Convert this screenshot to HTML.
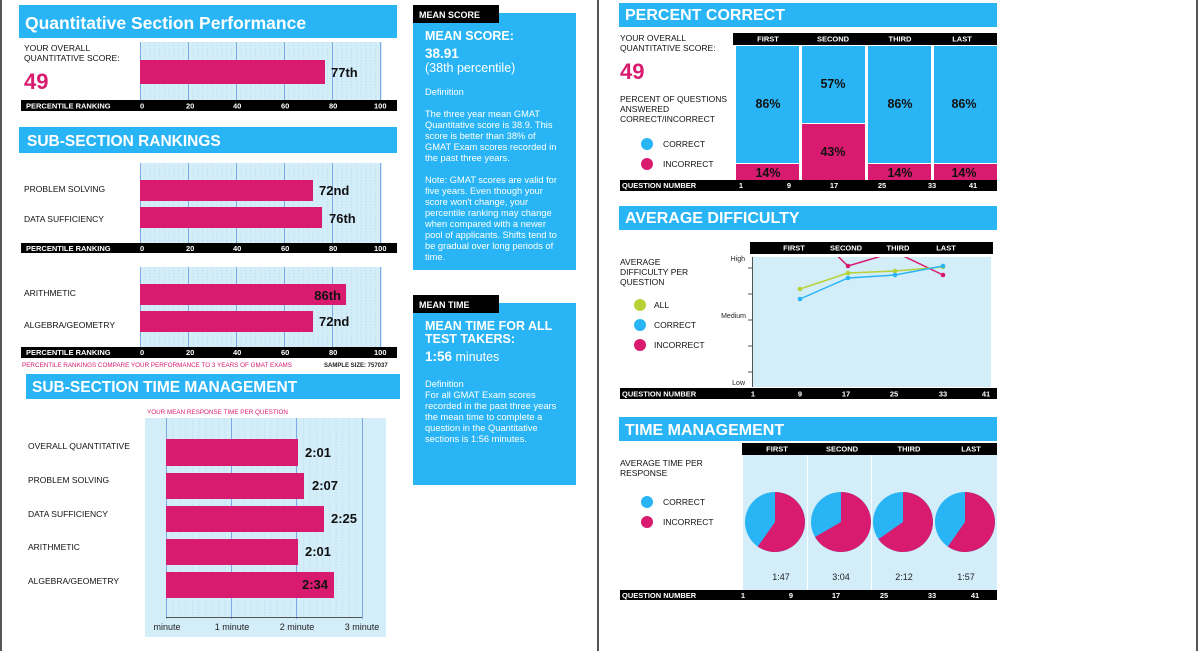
<!DOCTYPE html>
<html><head><meta charset="utf-8"><style>
html,body{margin:0;padding:0;background:#fff;}
svg{display:block;font-family:"Liberation Sans",Arial,sans-serif;}
.w{fill:#fff;font-weight:bold;}
.ax{fill:#fff;font-weight:bold;font-size:7.5px;}
.lb{fill:#111;font-size:8.5px;}
.bv{fill:#111;font-weight:bold;font-size:13px;}
.pc{fill:#111;font-weight:bold;font-size:12.5px;text-anchor:middle;}
.mt{fill:#fff;font-size:9.3px;}
</style></head><body>
<svg width="1198" height="651" viewBox="0 0 1198 651" xmlns="http://www.w3.org/2000/svg">
<defs>
<pattern id="dots" x="140" y="0" width="4.8" height="3" patternUnits="userSpaceOnUse">
<rect width="4.8" height="3" fill="#d3edf9"/><rect x="0" y="0" width="0.6" height="1.5" fill="#b6d7ee"/>
</pattern>
<pattern id="dots2" x="166" y="0" width="6.53" height="3" patternUnits="userSpaceOnUse">
<rect width="6.53" height="3" fill="#d3edf9"/><rect x="0" y="0" width="0.6" height="1.5" fill="#b6d7ee"/>
</pattern>
<clipPath id="plot"><rect x="752" y="257" width="239" height="130"/></clipPath>
</defs>
<rect width="1198" height="651" fill="#fff"/>
<rect x="0" y="0" width="2" height="651" fill="#555"/>
<rect x="597" y="0" width="2" height="651" fill="#555"/>
<rect x="1196" y="0" width="2" height="651" fill="#555"/>

<!-- LEFT: Quantitative -->
<rect x="19" y="5" width="378" height="33" fill="#29b5f5"/>
<text x="25" y="29" class="w" font-size="17.5">Quantitative Section Performance</text>
<text x="24" y="51" class="lb">YOUR OVERALL</text>
<text x="24" y="61" class="lb">QUANTITATIVE SCORE:</text>
<text x="24" y="89" fill="#d81b6f" font-weight="bold" font-size="22">49</text>
<rect x="140" y="42" width="242" height="58" fill="url(#dots)"/>
<g stroke="#7fa8e8" stroke-width="1"><line x1="140.5" y1="42" x2="140.5" y2="100"/><line x1="188.5" y1="42" x2="188.5" y2="100"/><line x1="236.5" y1="42" x2="236.5" y2="100"/><line x1="284.5" y1="42" x2="284.5" y2="100"/><line x1="332.5" y1="42" x2="332.5" y2="100"/><line x1="380.5" y1="42" x2="380.5" y2="100"/></g>
<rect x="140" y="60" width="185" height="24" fill="#d81b6f"/>
<text x="331" y="77" class="bv">77th</text>
<rect x="21" y="100" width="376" height="11" fill="#000"/>
<text x="26" y="108.5" class="ax">PERCENTILE RANKING</text>
<g class="ax"><text x="140" y="108.5">0</text><text x="186" y="108.5">20</text><text x="233" y="108.5">40</text><text x="281" y="108.5">60</text><text x="329" y="108.5">80</text><text x="374" y="108.5">100</text></g>

<rect x="19" y="127" width="378" height="26" fill="#29b5f5"/>
<text x="27" y="146" class="w" font-size="15.5">SUB-SECTION RANKINGS</text>
<rect x="140" y="163" width="242" height="80" fill="url(#dots)"/>
<g stroke="#7fa8e8"><line x1="140.5" y1="163" x2="140.5" y2="243"/><line x1="188.5" y1="163" x2="188.5" y2="243"/><line x1="236.5" y1="163" x2="236.5" y2="243"/><line x1="284.5" y1="163" x2="284.5" y2="243"/><line x1="332.5" y1="163" x2="332.5" y2="243"/><line x1="380.5" y1="163" x2="380.5" y2="243"/></g>
<rect x="140" y="180" width="173" height="21" fill="#d81b6f"/>
<rect x="140" y="207" width="182" height="21" fill="#d81b6f"/>
<text x="24" y="192" class="lb">PROBLEM SOLVING</text>
<text x="24" y="222" class="lb">DATA SUFFICIENCY</text>
<text x="319" y="195" class="bv">72nd</text>
<text x="329" y="223" class="bv">76th</text>
<rect x="21" y="243" width="376" height="10" fill="#000"/>
<text x="26" y="251" class="ax">PERCENTILE RANKING</text>
<g class="ax"><text x="140" y="251">0</text><text x="186" y="251">20</text><text x="233" y="251">40</text><text x="281" y="251">60</text><text x="329" y="251">80</text><text x="374" y="251">100</text></g>

<rect x="140" y="267" width="242" height="80" fill="url(#dots)"/>
<g stroke="#7fa8e8"><line x1="140.5" y1="267" x2="140.5" y2="347"/><line x1="188.5" y1="267" x2="188.5" y2="347"/><line x1="236.5" y1="267" x2="236.5" y2="347"/><line x1="284.5" y1="267" x2="284.5" y2="347"/><line x1="332.5" y1="267" x2="332.5" y2="347"/><line x1="380.5" y1="267" x2="380.5" y2="347"/></g>
<rect x="140" y="284" width="206" height="21" fill="#d81b6f"/>
<rect x="140" y="311" width="173" height="21" fill="#d81b6f"/>
<text x="24" y="296" class="lb">ARITHMETIC</text>
<text x="24" y="328" class="lb">ALGEBRA/GEOMETRY</text>
<text x="341" y="300" class="bv" text-anchor="end">86th</text>
<text x="319" y="326" class="bv">72nd</text>
<rect x="21" y="347" width="376" height="11" fill="#000"/>
<text x="26" y="355" class="ax">PERCENTILE RANKING</text>
<g class="ax"><text x="140" y="355">0</text><text x="186" y="355">20</text><text x="233" y="355">40</text><text x="281" y="355">60</text><text x="329" y="355">80</text><text x="374" y="355">100</text></g>
<text x="22" y="367" fill="#d81b6f" font-size="6.3">PERCENTILE RANKINGS COMPARE YOUR PERFORMANCE TO 3 YEARS OF GMAT EXAMS</text>
<text x="324" y="367" fill="#222" font-size="6" font-weight="bold">SAMPLE SIZE: 757037</text>

<rect x="26" y="374" width="374" height="25" fill="#29b5f5"/>
<text x="32" y="392" class="w" font-size="15.5">SUB-SECTION TIME MANAGEMENT</text>
<text x="147" y="414" fill="#d81b6f" font-size="6.3">YOUR MEAN RESPONSE TIME PER QUESTION</text>
<rect x="145" y="418" width="241" height="219" fill="#d3edf9"/>
<rect x="166" y="418" width="196" height="199" fill="url(#dots2)"/>
<g stroke="#7fa8e8"><line x1="166.5" y1="418" x2="166.5" y2="619"/><line x1="231.5" y1="418" x2="231.5" y2="619"/><line x1="296.5" y1="418" x2="296.5" y2="619"/><line x1="362.5" y1="418" x2="362.5" y2="619"/></g>
<line x1="166" y1="617.5" x2="362" y2="617.5" stroke="#555"/>
<rect x="166" y="439" width="132" height="27" fill="#d81b6f"/>
<rect x="166" y="473" width="138" height="26" fill="#d81b6f"/>
<rect x="166" y="506" width="158" height="26" fill="#d81b6f"/>
<rect x="166" y="539" width="132" height="26" fill="#d81b6f"/>
<rect x="166" y="572" width="168" height="26" fill="#d81b6f"/>
<text x="305" y="457" class="bv">2:01</text>
<text x="312" y="490" class="bv">2:07</text>
<text x="331" y="523" class="bv">2:25</text>
<text x="305" y="556" class="bv">2:01</text>
<text x="328" y="589" class="bv" text-anchor="end">2:34</text>
<g class="lb"><text x="28" y="449">OVERALL QUANTITATIVE</text><text x="28" y="483">PROBLEM SOLVING</text><text x="28" y="517">DATA SUFFICIENCY</text><text x="28" y="550">ARITHMETIC</text><text x="28" y="584">ALGEBRA/GEOMETRY</text></g>
<g fill="#222" font-size="9" text-anchor="middle"><text x="167" y="630">minute</text><text x="232" y="630">1 minute</text><text x="297" y="630">2 minute</text><text x="362" y="630">3 minute</text></g>

<!-- MIDDLE -->
<rect x="413" y="13" width="163" height="257" fill="#29b5f5"/>
<rect x="413" y="5" width="86" height="18" fill="#000"/>
<text x="419" y="18" class="w" font-size="9">MEAN SCORE</text>
<text x="425" y="40" class="w" font-size="12.5">MEAN SCORE:</text>
<text x="425" y="58" class="w" font-size="13.5">38.91</text>
<text x="425" y="72" fill="#fff" font-size="12.5">(38th percentile)</text>
<text x="425" y="95" class="mt">Definition</text>
<g class="mt"><text x="425" y="117">The three year mean GMAT</text><text x="425" y="128">Quantitative score is 38.9. This</text><text x="425" y="139">score is better than 38% of</text><text x="425" y="150">GMAT Exam scores recorded in</text><text x="425" y="161">the past three years.</text>
<text x="425" y="183">Note:  GMAT scores are valid for</text><text x="425" y="194">five years. Even though your</text><text x="425" y="205">score won't change, your</text><text x="425" y="216">percentile ranking may change</text><text x="425" y="227">when compared with a newer</text><text x="425" y="238">pool of applicants.  Shifts tend to</text><text x="425" y="249">be gradual over long periods of</text><text x="425" y="260">time.</text></g>

<rect x="413" y="303" width="163" height="182" fill="#29b5f5"/>
<rect x="413" y="295" width="86" height="18" fill="#000"/>
<text x="419" y="308" class="w" font-size="9">MEAN TIME</text>
<text x="425" y="330" class="w" font-size="12.5">MEAN TIME FOR ALL</text>
<text x="425" y="343" class="w" font-size="12.5">TEST TAKERS:</text>
<text x="425" y="361" fill="#fff" font-size="12.5"><tspan font-weight="bold" font-size="13.5">1:56</tspan> minutes</text>
<g class="mt"><text x="425" y="387">Definition</text><text x="425" y="398">For all GMAT Exam scores</text><text x="425" y="409">recorded in the past three years</text><text x="425" y="420">the mean time to complete a</text><text x="425" y="431">question in the Quantitative</text><text x="425" y="442">sections is 1:56 minutes.</text></g>

<!-- RIGHT: PERCENT CORRECT -->
<rect x="619" y="3" width="378" height="24" fill="#29b5f5"/>
<text x="625" y="20" class="w" font-size="16">PERCENT CORRECT</text>
<text x="620" y="41" class="lb">YOUR OVERALL</text>
<text x="620" y="51" class="lb">QUANTITATIVE SCORE:</text>
<text x="620" y="79" fill="#d81b6f" font-weight="bold" font-size="22">49</text>
<g class="lb"><text x="620" y="102">PERCENT OF QUESTIONS</text><text x="620" y="112">ANSWERED</text><text x="620" y="122">CORRECT/INCORRECT</text></g>
<circle cx="647" cy="144" r="6" fill="#29b5f5"/><circle cx="647" cy="164" r="6" fill="#d81b6f"/>
<text x="663" y="147" class="lb">CORRECT</text><text x="663" y="167" class="lb">INCORRECT</text>
<rect x="733" y="33" width="264" height="12" fill="#000"/>
<g class="ax" text-anchor="middle"><text x="768" y="41.5">FIRST</text><text x="833" y="41.5">SECOND</text><text x="900" y="41.5">THIRD</text><text x="962" y="41.5">LAST</text></g>
<rect x="736" y="46" width="63" height="117" fill="#29b5f5"/><rect x="736" y="164" width="63" height="16" fill="#d81b6f"/>
<rect x="802" y="46" width="63" height="77" fill="#29b5f5"/><rect x="802" y="124" width="63" height="56" fill="#d81b6f"/>
<rect x="868" y="46" width="63" height="117" fill="#29b5f5"/><rect x="868" y="164" width="63" height="16" fill="#d81b6f"/>
<rect x="934" y="46" width="63" height="117" fill="#29b5f5"/><rect x="934" y="164" width="63" height="16" fill="#d81b6f"/>
<g class="pc"><text x="768" y="108">86%</text><text x="833" y="88">57%</text><text x="833" y="156">43%</text><text x="900" y="108">86%</text><text x="964" y="108">86%</text>
<text x="768" y="177">14%</text><text x="900" y="177">14%</text><text x="964" y="177">14%</text></g>
<rect x="620" y="180" width="377" height="11" fill="#000"/>
<text x="622" y="188" class="ax">QUESTION  NUMBER</text>
<g class="ax" text-anchor="middle"><text x="741" y="188">1</text><text x="789" y="188">9</text><text x="834" y="188">17</text><text x="882" y="188">25</text><text x="932" y="188">33</text><text x="973" y="188">41</text></g>

<!-- AVERAGE DIFFICULTY -->
<rect x="619" y="206" width="378" height="24" fill="#29b5f5"/>
<text x="625" y="223" class="w" font-size="16">AVERAGE DIFFICULTY</text>
<rect x="750" y="242" width="243" height="12" fill="#000"/>
<g class="ax" text-anchor="middle"><text x="794" y="250.5">FIRST</text><text x="846" y="250.5">SECOND</text><text x="898" y="250.5">THIRD</text><text x="946" y="250.5">LAST</text></g>
<rect x="752" y="257" width="239" height="130" fill="#d3edf9"/>
<line x1="752.5" y1="257" x2="752.5" y2="387" stroke="#555"/>
<g stroke="#555"><line x1="748" y1="268" x2="752" y2="268"/><line x1="748" y1="294" x2="752" y2="294"/><line x1="748" y1="320" x2="752" y2="320"/><line x1="748" y1="346" x2="752" y2="346"/><line x1="748" y1="372" x2="752" y2="372"/></g>
<g fill="#222" font-size="7" text-anchor="end"><text x="745" y="261">High</text><text x="746" y="318">Medium</text><text x="745" y="385">Low</text></g>
<g clip-path="url(#plot)" stroke-width="1.5" fill="none">
<polyline points="826,245 848,266 895,252 943,275" stroke="#d81b6f"/>
<polyline points="800,289 848,273 895,271 943,267" stroke="#b6d236"/>
<polyline points="800,299 848,278 895,275 943,266" stroke="#29b5f5"/>
</g>
<g fill="#d81b6f"><circle cx="848" cy="266" r="2.3"/><circle cx="943" cy="275" r="2.3"/></g>
<g fill="#b6d236"><circle cx="800" cy="289" r="2.3"/><circle cx="848" cy="273" r="2.3"/><circle cx="895" cy="271" r="2.3"/><circle cx="943" cy="267" r="2.3"/></g>
<g fill="#29b5f5"><circle cx="800" cy="299" r="2.3"/><circle cx="848" cy="278" r="2.3"/><circle cx="895" cy="275" r="2.3"/><circle cx="943" cy="266" r="2.3"/></g>
<g class="lb"><text x="620" y="265">AVERAGE</text><text x="620" y="275">DIFFICULTY PER</text><text x="620" y="285">QUESTION</text>
<text x="654" y="308">ALL</text><text x="654" y="328">CORRECT</text><text x="654" y="348">INCORRECT</text></g>
<circle cx="640" cy="305" r="6" fill="#b6d236"/><circle cx="640" cy="325" r="6" fill="#29b5f5"/><circle cx="640" cy="345" r="6" fill="#d81b6f"/>
<rect x="620" y="388" width="377" height="11" fill="#000"/>
<text x="622" y="396.5" class="ax">QUESTION  NUMBER</text>
<g class="ax" text-anchor="middle"><text x="753" y="396.5">1</text><text x="800" y="396.5">9</text><text x="846" y="396.5">17</text><text x="894" y="396.5">25</text><text x="943" y="396.5">33</text><text x="986" y="396.5">41</text></g>

<!-- TIME MANAGEMENT -->
<rect x="619" y="417" width="378" height="24" fill="#29b5f5"/>
<text x="625" y="435" class="w" font-size="16">TIME MANAGEMENT</text>
<rect x="742" y="443" width="255" height="12" fill="#000"/>
<g class="ax" text-anchor="middle"><text x="777" y="451.5">FIRST</text><text x="842" y="451.5">SECOND</text><text x="909" y="451.5">THIRD</text><text x="971" y="451.5">LAST</text></g>
<rect x="743" y="455" width="254" height="135" fill="#d3edf9"/>
<rect x="807" y="455" width="1" height="135" fill="#fff"/><rect x="871" y="455" width="1" height="135" fill="#fff"/>
<circle cx="775" cy="522" r="30" fill="#29b5f5"/><path d="M775,522 L775,492 A30,30 0 1 1 757.8,546.6 Z" fill="#d81b6f"/>
<circle cx="841" cy="522" r="30" fill="#29b5f5"/><path d="M841,522 L841,492 A30,30 0 1 1 815,537 Z" fill="#d81b6f"/>
<circle cx="903" cy="522" r="30" fill="#29b5f5"/><path d="M903,522 L903,492 A30,30 0 1 1 878.4,539.2 Z" fill="#d81b6f"/>
<circle cx="965" cy="522" r="30" fill="#29b5f5"/><path d="M965,522 L965,492 A30,30 0 1 1 947.8,546.6 Z" fill="#d81b6f"/>
<g fill="#222" font-size="9" text-anchor="middle"><text x="781" y="580">1:47</text><text x="841" y="580">3:04</text><text x="904" y="580">2:12</text><text x="966" y="580">1:57</text></g>
<g class="lb"><text x="620" y="466">AVERAGE TIME PER</text><text x="620" y="476">RESPONSE</text><text x="663" y="505">CORRECT</text><text x="663" y="525">INCORRECT</text></g>
<circle cx="647" cy="502" r="6" fill="#29b5f5"/><circle cx="647" cy="522" r="6" fill="#d81b6f"/>
<rect x="620" y="590" width="377" height="10" fill="#000"/>
<text x="622" y="598" class="ax">QUESTION  NUMBER</text>
<g class="ax" text-anchor="middle"><text x="743" y="598">1</text><text x="791" y="598">9</text><text x="836" y="598">17</text><text x="884" y="598">25</text><text x="932" y="598">33</text><text x="975" y="598">41</text></g>
</svg>
</body></html>
